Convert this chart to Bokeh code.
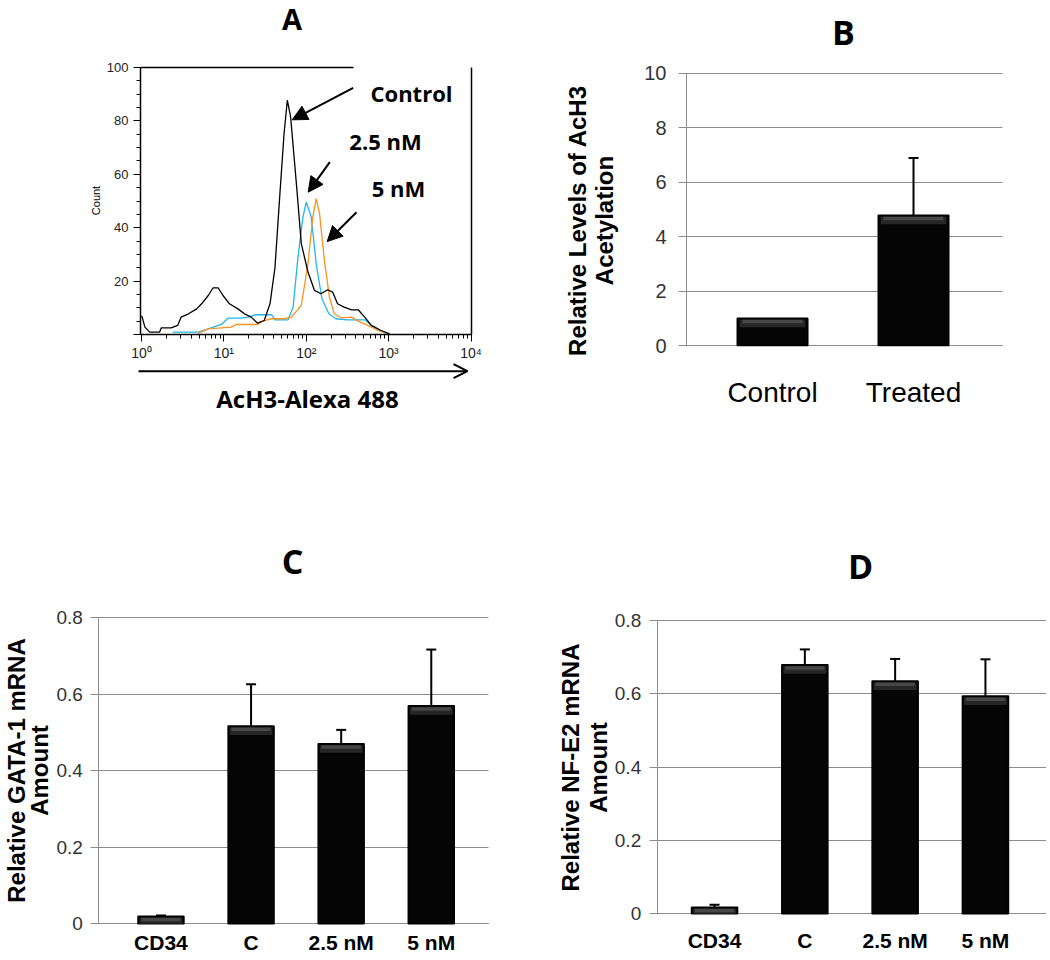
import math
from bokeh.plotting import figure
from bokeh.layouts import row, column
from bokeh.models import (Range1d, Label, Arrow, NormalHead, OpenHead, TeeHead, Grid,
                          Whisker, ColumnDataSource, FixedTicker, SingleIntervalTicker)
from bokeh.embed import file_html
from bokeh.resources import INLINE

# ---------------- Panel A: flow cytometry histogram (AcH3-Alexa 488) ----------------
ctrl_x = [1.0, 1.02, 1.10, 1.26, 1.66, 1.74, 2.29, 2.75, 3.02, 3.72, 4.68, 5.37, 6.46, 7.41, 8.51,
          9.77, 11.7, 14.8, 17.8, 21.4, 25.7, 30.9, 36.3, 41.7, 47.9, 53.7, 58.9, 64.6, 75.9, 87.1,
          105, 126, 151, 182, 209, 240, 288, 355, 427, 513, 617, 813, 1023]
ctrl_y = [7.0, 6.5, 2.75, 0.9, 0.9, 2.5, 2.5, 3.4, 6.5, 7.75, 9.6, 11.5, 14.6, 17.5, 17.5,
          14.6, 11.5, 9.6, 7.75, 6.5, 4.25, 5.25, 11.5, 25, 52.75, 75, 87.75, 81.5, 56.5, 34,
          23.4, 16.5, 15.25, 16.75, 15.9, 11.5, 10.25, 9.25, 9.25, 6.5, 3.4, 1.5, 0.25]

nm25_x = [2.40, 4.90, 6.46, 9.33, 11.2, 16.2, 19.5, 24.5, 38.0, 41.7, 60.3, 69.2, 79.4, 91.2,
          100, 115, 132, 155, 188, 229, 316, 513, 617, 776, 1023]
nm25_y = [0.9, 0.9, 2.1, 3.75, 6.1, 6.1, 6.5, 7.4, 7.4, 5.5, 5.5, 10.25, 29, 44,
          49.6, 44, 26.5, 13.4, 7.75, 5.9, 5.5, 5.5, 3.4, 1.5, 0.25]

nm5_x = [4.90, 6.46, 12.3, 14.1, 25.7, 29.5, 38.0, 55.0, 66.1, 87.1, 105, 120, 132, 145, 166,
         191, 219, 263, 355, 427, 562, 741, 933]
nm5_y = [0.5, 2.1, 2.75, 3.75, 3.75, 5, 5.9, 5.9, 6.5, 10.9, 26.5, 44, 50.9, 45.25, 27.75,
         14, 7.75, 6.25, 6.5, 5, 3.4, 1.5, 0.5]

A_major_ticks = [1, 10, 100, 1000, 10000]
A_tick_labels = ["10\u2070", "10\u00b9", "10\u00b2", "10\u00b3", "10\u2074"]

# ---------------- Panel B ----------------
B_cats = ["Control", "Treated"]
B_vals = [1.0, 4.78]
B_errs = [0.0, 2.11]
B_y_ticks = [0, 2, 4, 6, 8, 10]

# ---------------- Panel C ----------------
C_cats = ["CD34", "C", "2.5 nM", "5 nM"]
C_vals = [0.020, 0.517, 0.471, 0.570]
C_errs = [0.002, 0.109, 0.036, 0.147]

# ---------------- Panel D ----------------
D_cats = ["CD34", "C", "2.5 nM", "5 nM"]
D_vals = [0.018, 0.679, 0.635, 0.594]
D_errs = [0.0065, 0.042, 0.060, 0.100]

CD_y_ticks = [0, 0.2, 0.4, 0.6, 0.8]
CD_y_labels = ["0", "0.2", "0.4", "0.6", "0.8"]

SANS = "Liberation Sans"
CAL = "Open Sans"
GRID = "#8c8c8c"
HAS_CROSS = "cross_bounds" in Grid.properties()


class Panel:
    """Maps reference-image pixels to data coordinates for a figure whose frame fills its canvas."""

    def __init__(self, X0, Y0, W, H, px0, dx0, ppx, py0, dy0, ppy, logx=False):
        self.X0, self.Y0, self.W, self.H = X0, Y0, W, H
        self.px0, self.dx0, self.ppx = px0, dx0, ppx
        self.py0, self.dy0, self.ppy = py0, dy0, ppy
        self.logx = logx

    def x(self, px):
        v = self.dx0 + (px - self.px0) / self.ppx
        return 10 ** v if self.logx else v

    def y(self, py):
        return self.dy0 + (self.py0 - py) / self.ppy

    def fig(self):
        xr = Range1d(self.x(self.X0), self.x(self.X0 + self.W))
        yr = Range1d(self.y(self.Y0 + self.H), self.y(self.Y0))
        kw = dict(x_axis_type="log") if self.logx else {}
        p = figure(width=self.W, height=self.H, x_range=xr, y_range=yr, output_backend="svg",
                   toolbar_location=None, title=None, min_border_left=0, min_border_right=0,
                   min_border_top=0, min_border_bottom=0, **kw)
        p.outline_line_color = None
        p.background_fill_color = "white"
        p.border_fill_color = "white"
        return p

    def text(self, p, px, py, text, size, bold=True, font=SANS, angle=0.0):
        p.add_layout(Label(x=self.x(px), y=self.y(py), text=text, text_font=font,
                           text_font_size=size, text_font_style="bold" if bold else "normal",
                           text_color="black", text_align="center", text_baseline="middle",
                           angle=angle))


# ================= Panel A =================
# axes box (reference px): x 140..471 (10^0 at 141, 10^4 at 470.5), y 67..334 (100..0)
GA = Panel(0, 0, 540, 428, 141, 0.0, 82.375, 334, 0.0, 2.67, logx=True)
pA = GA.fig()
pA.xgrid.visible = False
pA.ygrid.visible = False

pA.line(nm25_x, nm25_y, line_color="#1fb6ea", line_width=1.3)
pA.line(nm5_x, nm5_y, line_color="#f7931e", line_width=1.3)
pA.line(ctrl_x, ctrl_y, line_color="black", line_width=1.3)

xa = pA.xaxis[0]
ya = pA.yaxis[0]
xa.fixed_location = 0
xa.bounds = (GA.x(140), GA.x(471))
ya.fixed_location = GA.x(140)
ya.bounds = (0, 100)

minor = [m * 10 ** e for e in range(0, 4) for m in range(2, 10)]
xa.ticker = FixedTicker(ticks=A_major_ticks, minor_ticks=minor)
xa.major_label_overrides = dict(zip(A_major_ticks, A_tick_labels))
ya.ticker = SingleIntervalTicker(interval=20, num_minor_ticks=4)
ya.major_label_overrides = {0: ""}
for a in (xa, ya):
    a.axis_line_color = "black"
    a.axis_line_width = 1.5
    a.major_tick_out = 7
    a.major_tick_in = 0
    a.minor_tick_out = 4
    a.minor_tick_in = 0
    a.major_tick_line_color = "black"
    a.minor_tick_line_color = "black"
    a.major_label_text_font = SANS
    a.major_label_text_color = "#222222"
xa.major_label_text_font_size = "14px"
xa.major_label_standoff = 3
ya.major_label_text_font_size = "13px"
ya.major_label_standoff = 5

# partial top border and right border of the histogram box
pA.add_layout(Arrow(x_start=GA.x(140), y_start=100, x_end=GA.x(353), y_end=100, end=None,
                    line_color="black", line_width=1.5))
pA.add_layout(Arrow(x_start=GA.x(471), y_start=100, x_end=GA.x(471), y_end=0, end=None,
                    line_color="black", line_width=1.5))

# pointer arrows
for (x0, y0, x1, y1) in [(352.7, 87.3, 291.7, 119.3), (329.3, 161.7, 307.7, 191.7),
                         (356, 211.7, 326.7, 241)]:
    pA.add_layout(Arrow(x_start=GA.x(x0), y_start=GA.y(y0), x_end=GA.x(x1), y_end=GA.y(y1),
                        end=NormalHead(size=15, fill_color="black", line_color="black"),
                        line_color="black", line_width=2))
# long arrow under the axis
pA.add_layout(Arrow(x_start=GA.x(138), y_start=GA.y(370.7), x_end=GA.x(467), y_end=GA.y(370.7),
                    end=OpenHead(size=14, line_color="black", line_width=2),
                    line_color="black", line_width=2))

GA.text(pA, 411, 92, "Control", "22px", font=CAL)
GA.text(pA, 385, 140, "2.5 nM", "22px", font=CAL)
GA.text(pA, 398, 187, "5 nM", "22px", font=CAL)
GA.text(pA, 95, 200, "Count", "11px", bold=False, angle=math.pi / 2)
GA.text(pA, 307, 398, "AcH3-Alexa 488", "24px", font=CAL)
GA.text(pA, 291.5, 18, "A", "29px", font=CAL)


# ================= bar chart helper =================
def bar_panel(G, p, cats, vals, errs, width, yticks, ylabels, x_left, x_right,
              tick_font, tick_std, cat_font, cat_std, cat_bold):
    pos = list(range(1, len(cats) + 1))
    xlo, xhi = G.x(x_left), G.x(x_right)
    p.xgrid.visible = False
    g = p.ygrid[0]
    g.ticker = FixedTicker(ticks=yticks)
    g.grid_line_color = GRID
    g.grid_line_width = 1
    g.bounds = (yticks[0], yticks[-1])
    if HAS_CROSS:
        g.cross_bounds = (xlo, xhi)
    else:
        g.visible = False
        p.segment(x0=[xlo] * len(yticks), x1=[xhi] * len(yticks), y0=yticks, y1=yticks,
                  line_color=GRID, line_width=1)

    p.vbar(x=pos, top=vals, bottom=0, width=width, fill_color="#050505",
           line_color="black", line_width=1.5)
    # bevel highlight on the top of each bar
    ppu = G.ppy
    b1 = [max(v - 9.0 / ppu, 0) for v in vals]
    t1 = [max(v - 1.5 / ppu, 0) for v in vals]
    b2 = [max(v - 5.0 / ppu, 0) for v in vals]
    p.vbar(x=pos, top=t1, bottom=b1, width=width * 0.93, fill_color="#262626", line_color=None)
    p.vbar(x=pos, top=t1, bottom=b2, width=width * 0.85, fill_color="#474747", line_color=None)
    ep = [x for x, e in zip(pos, errs) if e > 0]
    ev = [v for v, e in zip(vals, errs) if e > 0]
    eu = [v + e for v, e in zip(vals, errs) if e > 0]
    src = ColumnDataSource(dict(x=ep, lower=ev, upper=eu))
    p.add_layout(Whisker(source=src, base="x", lower="lower", upper="upper",
                         line_color="black", line_width=2, lower_head=None,
                         upper_head=TeeHead(size=10, line_color="black", line_width=2),
                         level="glyph"))

    xa = p.xaxis[0]
    ya = p.yaxis[0]
    xa.fixed_location = 0
    xa.bounds = (xlo, xhi)
    xa.level = "underlay"
    ya.fixed_location = xlo
    ya.bounds = (yticks[0], yticks[-1])

    xa.ticker = FixedTicker(ticks=pos)
    xa.major_label_overrides = dict(zip(pos, cats))
    xa.major_tick_line_color = None
    xa.minor_tick_line_color = None
    xa.major_tick_out = 0
    xa.major_tick_in = 0
    xa.minor_tick_out = 0
    xa.minor_tick_in = 0
    xa.axis_line_color = GRID
    xa.major_label_text_font = SANS
    xa.major_label_text_font_size = cat_font
    xa.major_label_text_font_style = "bold" if cat_bold else "normal"
    xa.major_label_text_color = "black"
    xa.major_label_standoff = cat_std

    ya.ticker = FixedTicker(ticks=yticks)
    if ylabels is not None:
        ya.major_label_overrides = dict(zip(yticks, ylabels))
    ya.axis_line_color = GRID
    ya.major_tick_line_color = GRID
    ya.minor_tick_line_color = None
    ya.major_tick_out = 8
    ya.major_tick_in = 0
    ya.minor_tick_out = 0
    ya.minor_tick_in = 0
    ya.major_label_text_font = SANS
    ya.major_label_text_font_size = tick_font
    ya.major_label_text_color = "#333333"
    ya.major_label_standoff = tick_std


# ================= Panel B =================
# axes box ref px: x 686..1002 (cat 1 at 772, 141 px/unit), y 72.7..345 (10..0)
GB = Panel(540, 0, 506, 428, 686, 0.39, 141.0, 345, 0.0, 27.23)
pB = GB.fig()
bar_panel(GB, pB, B_cats, B_vals, B_errs, 0.5, B_y_ticks, None, 686, 1002,
          "20px", 12, "28px", 31, False)
GB.text(pB, 843, 31, "B", "34px", font=CAL)
GB.text(pB, 577, 220, "Relative Levels of AcH3", "24px", angle=math.pi / 2)
GB.text(pB, 604, 220, "Acetylation", "24px", angle=math.pi / 2)

# ================= Panel C =================
# axes box ref px: x 98.3..488, y 617.3..923.3 (0.8..0)
GC = Panel(0, 428, 530, 528, 98.3, 0.31, 90.1, 923.3, 0.0, 382.5)
pC = GC.fig()
bar_panel(GC, pC, C_cats, C_vals, C_errs, 0.51, CD_y_ticks, CD_y_labels, 98.3, 488,
          "19px", 8, "21px", 7, True)
GC.text(pC, 292, 560, "C", "34px", font=CAL)
GC.text(pC, 16, 770, "Relative GATA-1 mRNA", "24px", angle=math.pi / 2)
GC.text(pC, 39, 770, "Amount", "24px", angle=math.pi / 2)

# ================= Panel D =================
# axes box ref px: x 656.7..1046, y 620..913.3 (0.8..0)
GD = Panel(530, 428, 516, 528, 656.7, 0.365, 90.3, 913.3, 0.0, 366.7)
pD = GD.fig()
bar_panel(GD, pD, D_cats, D_vals, D_errs, 0.51, CD_y_ticks, CD_y_labels, 656.7, 1046,
          "19px", 8, "21px", 15, True)
GD.text(pD, 860, 565, "D", "34px", font=CAL)
GD.text(pD, 570, 767, "Relative NF-E2 mRNA", "24px", angle=math.pi / 2)
GD.text(pD, 598, 767, "Amount", "24px", angle=math.pi / 2)

layout = column(row(column(pA), column(pB)), row(column(pC), column(pD)))
open("out.html", "w").write(file_html(layout, INLINE))
